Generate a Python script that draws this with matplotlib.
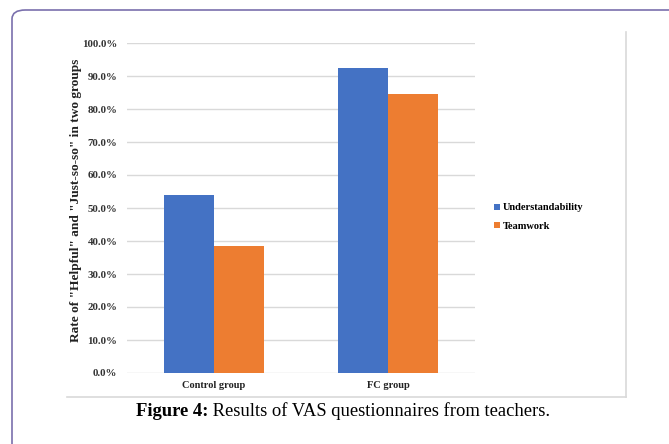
import matplotlib
matplotlib.use("Agg")
import matplotlib.pyplot as plt
from matplotlib.patches import FancyBboxPatch
from matplotlib.lines import Line2D
from matplotlib.ticker import FuncFormatter
import numpy as np

groups = ["Control group", "FC group"]
understandability = [53.8, 92.3]
teamwork = [38.5, 84.6]
yticks = [0, 10, 20, 30, 40, 50, 60, 70, 80, 90, 100]

W, H = 669, 444
blue = "#4472c4"
orange = "#ed7d31"
serif = "Liberation Serif"

fig = plt.figure(figsize=(W / 100, H / 100), dpi=100)

# outer rounded border (runs off right and bottom)
border = FancyBboxPatch((12 / W, 1 - 10 / H - 700 / H), 900 / W, 700 / H,
                        boxstyle="round,pad=0,rounding_size=0.02",
                        transform=fig.transFigure, fill=False,
                        edgecolor="#7a70ad", linewidth=1.2, clip_on=False)
fig.patches.append(border)

# light frame of the inner chart image
gray = "#d9d9d9"
fig.add_artist(Line2D([626 / W, 626 / W], [1 - 32 / H, 1 - 397 / H], color=gray, lw=1.2))
fig.add_artist(Line2D([67 / W, 626 / W], [1 - 397 / H, 1 - 397 / H], color=gray, lw=1.2))

ax = fig.add_axes([127 / W, 1 - 373 / H, 348 / W, 330 / H])
x = np.arange(len(groups))
bw = 0.287
ax.bar(x - bw / 2, understandability, bw, color=blue, label="Understandability", zorder=3)
ax.bar(x + bw / 2, teamwork, bw, color=orange, label="Teamwork", zorder=3)

ax.set_xlim(-0.5, 1.5)
ax.set_ylim(0, 100)
ax.set_yticks(yticks)
ax.yaxis.set_major_formatter(FuncFormatter(lambda v, p: f"{v:.1f}%"))
ax.grid(axis="y", color=gray, lw=1.0, zorder=0)
for s in ax.spines.values():
    s.set_visible(False)
ax.tick_params(axis="y", length=0, pad=7)
ax.set_xticks(x)
ax.set_xticklabels(groups)
for lab in ax.get_yticklabels():
    lab.set_fontfamily(serif)
    lab.set_fontweight("bold")
    lab.set_fontsize(7.8)
    lab.set_color("#333333")
for lab in ax.get_xticklabels():
    lab.set_fontfamily(serif)
    lab.set_fontweight("bold")
    lab.set_fontsize(7.5)
    lab.set_color("#222222")
ax.tick_params(axis="x", length=0, pad=6)

fig.text(76 / W, 1 - 200 / H, 'Rate of "Helpful" and "Just-so-so" in two groups',
         rotation=90, ha="center", va="center", family=serif, weight="bold",
         fontsize=9.6, color="#222222")

leg = ax.legend(loc="center left", bbox_to_anchor=(485 / W, 1 - 217 / H),
                bbox_transform=fig.transFigure, frameon=False,
                prop={"family": serif, "weight": "bold", "size": 7.5},
                handlelength=0.5, handleheight=0.5, handletextpad=0.3, labelspacing=0.9)

cap = fig.text(136 / W, 1 - 416 / H, "Figure 4:", family=serif, weight="bold",
               fontsize=13.4, ha="left", va="baseline")
ax.annotate(" Results of VAS questionnaires from teachers.", xy=(1, 0),
            xycoords=cap, va="bottom", ha="left", family=serif, fontsize=13.4,
            annotation_clip=False)

fig.savefig("out.png", dpi=100)
